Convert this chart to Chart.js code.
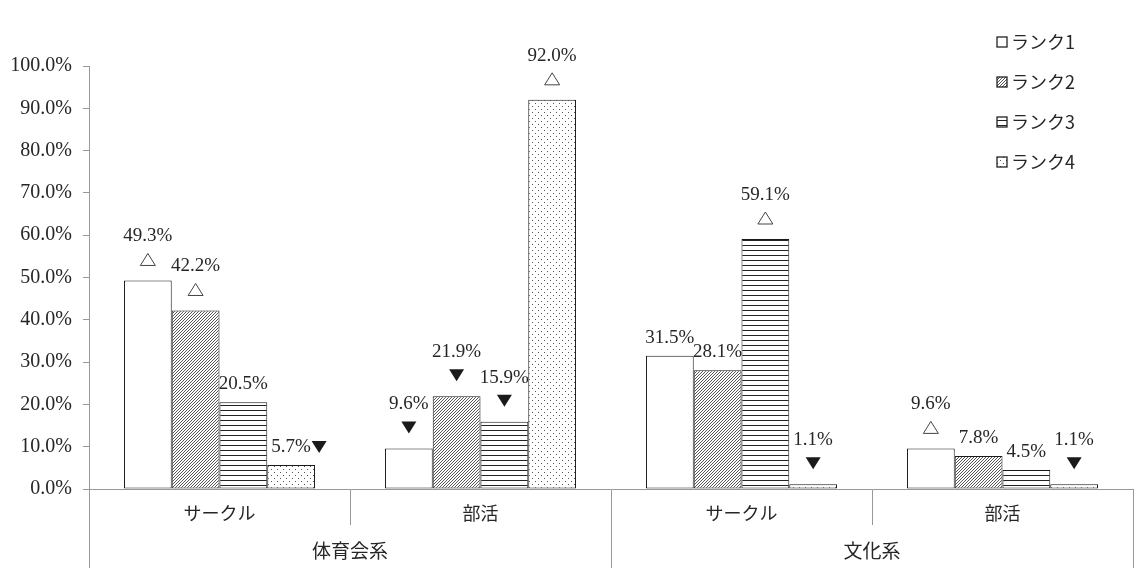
<!DOCTYPE html>
<html>
<head>
<meta charset="utf-8">
<script src="https://cdn.jsdelivr.net/npm/chart.js@4/dist/chart.umd.min.js"></script>
<style>
  body { margin: 0; background: #fff; }
</style>
</head>
<body>
<canvas id="grafico" width="1134" height="568"></canvas>
<script>
// datos del grafico
const categorias = ["サークル", "部活", "サークル", "部活"];
const grupos = ["体育会系", "文化系"];
const series = ["ランク1", "ランク2", "ランク3", "ランク4"];
const rank1 = [49.3, 9.6, 31.5, 9.6];
const rank2 = [42.2, 21.9, 28.1, 7.8];
const rank3 = [20.5, 15.9, 59.1, 4.5];
const rank4 = [5.7, 92.0, 1.1, 1.1];
// marcas: up = △ arriba, down = ▼ arriba, side = ▼ a la derecha
const marcas1 = ["up", "down", "", "up"];
const marcas2 = ["up", "down", "", ""];
const marcas3 = ["", "down", "up", ""];
const marcas4 = ["side", "up", "down", "down"];

const fuente = '"Liberation Serif", "Noto Sans CJK JP", serif';
const gris = "#999";
const texto = "#262626";

// patrones de relleno
function patron(tipo) {
  var c = document.createElement("canvas");
  var g = c.getContext("2d");
  if (tipo === "diagonal") {
    c.width = 3; c.height = 3;
    g.fillStyle = "#fff"; g.fillRect(0, 0, 3, 3);
    g.fillStyle = "#555";
    g.fillRect(0, 2, 1, 1);
    g.fillRect(1, 1, 1, 1);
    g.fillRect(2, 0, 1, 1);
  } else if (tipo === "horizontal") {
    c.width = 4; c.height = 5;
    g.fillStyle = "#fff"; g.fillRect(0, 0, 4, 5);
    g.fillStyle = "#222"; g.fillRect(0, 0, 4, 1);
  } else if (tipo === "puntos") {
    c.width = 6; c.height = 6;
    g.fillStyle = "#fff"; g.fillRect(0, 0, 6, 6);
    g.fillStyle = "#555";
    g.fillRect(1, 1, 1, 1);
    g.fillRect(4, 4, 1, 1);
  } else {
    return "#fff";
  }
  return g.createPattern(c, "repeat");
}

function triangulo(ctx, x, y, tipo) {
  var w = 7.5, h = 6;
  ctx.beginPath();
  if (tipo === "up") {
    ctx.moveTo(x, y - h); ctx.lineTo(x + w, y + h); ctx.lineTo(x - w, y + h);
    ctx.closePath();
    ctx.fillStyle = "#fff"; ctx.fill();
    ctx.strokeStyle = "#444"; ctx.lineWidth = 1; ctx.stroke();
  } else {
    ctx.moveTo(x - w, y - h); ctx.lineTo(x + w, y - h); ctx.lineTo(x, y + h);
    ctx.closePath();
    ctx.fillStyle = "#1a1a1a"; ctx.fill();
  }
}

// etiquetas de valores con marcas
const etiquetas = {
  id: "etiquetas",
  afterDatasetsDraw(chart) {
    var ctx = chart.ctx;
    ctx.save();
    ctx.font = "19px " + fuente;
    ctx.textAlign = "center";
    ctx.textBaseline = "middle";
    chart.data.datasets.forEach(function (ds, i) {
      chart.getDatasetMeta(i).data.forEach(function (bar, j) {
        var m = ds.marcas[j];
        var txt = ds.data[j].toFixed(1) + "%";
        ctx.fillStyle = texto;
        if (m === "up" || m === "down") {
          ctx.fillText(txt, bar.x, bar.y - 44);
          triangulo(ctx, bar.x, bar.y - 21, m);
        } else {
          ctx.fillText(txt, bar.x, bar.y - 18);
          if (m === "side") triangulo(ctx, bar.x + 28, bar.y - 18, "down");
        }
      });
    });
    ctx.restore();
  }
};

// leyenda vertical arriba a la derecha
const leyenda = {
  id: "leyenda",
  afterDraw(chart) {
    var ctx = chart.ctx;
    ctx.save();
    chart.data.datasets.forEach(function (ds, i) {
      var y = 42 + i * 40;
      ctx.fillStyle = ds.backgroundColor;
      ctx.fillRect(997, y - 5, 10, 10);
      ctx.strokeStyle = "#222"; ctx.lineWidth = 1.3;
      ctx.strokeRect(997, y - 5, 10, 10);
      ctx.fillStyle = texto;
      ctx.font = '18px "Noto Sans CJK JP", sans-serif';
      ctx.textAlign = "left";
      ctx.textBaseline = "middle";
      ctx.fillText(ds.label, 1011, y);
    });
    ctx.restore();
  }
};

const valores = [rank1, rank2, rank3, rank4];
const marcas = [marcas1, marcas2, marcas3, marcas4];
const rellenos = ["blanco", "diagonal", "horizontal", "puntos"];

new Chart(document.getElementById("grafico"), {
  type: "bar",
  data: {
    labels: categorias,
    datasets: series.map(function (s, i) {
      return {
        label: s,
        data: valores[i],
        marcas: marcas[i],
        backgroundColor: patron(rellenos[i]),
        borderColor: "#1a1a1a",
        borderWidth: 1,
        borderSkipped: false,
        categoryPercentage: 0.732,
        barPercentage: 1
      };
    })
  },
  options: {
    responsive: false,
    animation: false,
    devicePixelRatio: 1,
    layout: { padding: { top: 66, right: 1, bottom: 0, left: 0 } },
    plugins: {
      legend: { display: false },
      tooltip: { enabled: false }
    },
    scales: {
      y: {
        min: 0,
        max: 100,
        ticks: {
          stepSize: 10,
          padding: 11,
          color: texto,
          font: { family: fuente, size: 20 },
          callback: function (v) { return v.toFixed(1) + "%"; }
        },
        grid: { drawOnChartArea: false, tickLength: 6, color: gris },
        border: { color: gris },
        afterFit: function (scale) { scale.width = 89; }
      },
      x: {
        ticks: { padding: -21, color: texto, font: { family: fuente, size: 18 } },
        grid: { offset: true, drawOnChartArea: false, tickLength: 36, color: gris },
        border: { color: gris },
        afterFit: function (scale) { scale.height = 36; }
      },
      x2: {
        type: "category",
        labels: grupos,
        position: "bottom",
        offset: true,
        ticks: { padding: -26, color: texto, font: { family: fuente, size: 19 } },
        grid: { offset: true, drawOnChartArea: false, tickLength: 43, color: gris },
        border: { display: false },
        afterFit: function (scale) { scale.height = 43; }
      }
    }
  },
  plugins: [etiquetas, leyenda]
});
</script>
</body>
</html>
